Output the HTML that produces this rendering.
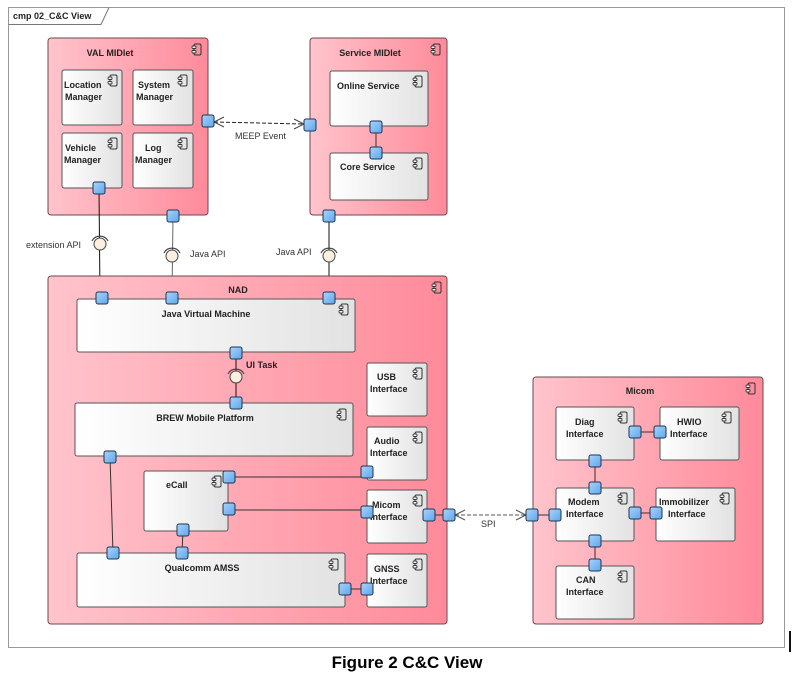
<!DOCTYPE html>
<html><head><meta charset="utf-8"><style>
html,body{margin:0;padding:0;background:#fff;}
svg{display:block;font-family:"Liberation Sans",Arial,sans-serif;}
.t{font-size:9px;font-weight:bold;fill:#222;}
.l{font-size:9px;fill:#333;}
</style></head><body>
<svg width="807" height="677" viewBox="0 0 807 677" xmlns="http://www.w3.org/2000/svg">
<defs>
<linearGradient id="pk" x1="0" x2="1" y1="0" y2="0"><stop offset="0" stop-color="#ffc4cc"/><stop offset="1" stop-color="#ff8a9a"/></linearGradient>
<linearGradient id="wh" x1="0" x2="1" y1="0" y2="0"><stop offset="0" stop-color="#ffffff"/><stop offset="1" stop-color="#e2e2e2"/></linearGradient>
<linearGradient id="bl" x1="0" x2="1" y1="0" y2="1"><stop offset="0" stop-color="#a8d4fb"/><stop offset="1" stop-color="#5fa6ec"/></linearGradient>
<g id="ic"><rect x="2" y="0" width="7" height="11" rx="1.5" fill="none" stroke="#333" stroke-width="1"/><rect x="0" y="2" width="4" height="2.5" rx="1" fill="#fff" stroke="#333" stroke-width="0.9"/><rect x="0" y="6.5" width="4" height="2.5" rx="1" fill="#fff" stroke="#333" stroke-width="0.9"/></g>
<g id="pt"><rect x="-6" y="-6" width="12" height="12" rx="2" fill="url(#bl)" stroke="#1f3550" stroke-width="1"/></g>
<g id="lp"><circle r="6" fill="#fbf0e0" stroke="#444" stroke-width="1"/><path d="M-8,-3 A9,9 0 0 1 8,-3" fill="none" stroke="#444" stroke-width="1.2"/></g>
</defs>

<rect x="8.5" y="7.5" width="776" height="640" fill="#fff" stroke="#999" stroke-width="1"/>
<path d="M8.5,24.5 H101 L109,7.5" fill="none" stroke="#777" stroke-width="1"/>
<text x="13" y="19" style="font-size:9px;font-weight:bold;fill:#222">cmp 02_C&amp;C View</text>
<rect x="789" y="631" width="2" height="21" fill="#111"/>

<rect x="48" y="38" width="160" height="177" rx="3" fill="url(#pk)" stroke="#6b4a4e" stroke-width="1"/>
<text class="t" x="110" y="56" text-anchor="middle">VAL MIDlet</text>
<use href="#ic" x="192" y="44"/>
<rect x="62" y="70" width="60" height="55" rx="2" fill="url(#wh)" stroke="#555"/>
<text class="t" x="64" y="88">Location</text><text class="t" x="65" y="100">Manager</text><use href="#ic" x="108" y="75"/>
<rect x="133" y="70" width="60" height="55" rx="2" fill="url(#wh)" stroke="#555"/>
<text class="t" x="138" y="88">System</text><text class="t" x="136" y="100">Manager</text><use href="#ic" x="178" y="75"/>
<rect x="62" y="133" width="60" height="55" rx="2" fill="url(#wh)" stroke="#555"/>
<text class="t" x="65" y="151">Vehicle</text><text class="t" x="64" y="163">Manager</text><use href="#ic" x="108" y="138"/>
<rect x="133" y="133" width="60" height="55" rx="2" fill="url(#wh)" stroke="#555"/>
<text class="t" x="145" y="151">Log</text><text class="t" x="135" y="163">Manager</text><use href="#ic" x="178" y="138"/>

<rect x="310" y="38" width="137" height="177" rx="3" fill="url(#pk)" stroke="#6b4a4e" stroke-width="1"/>
<text class="t" x="370" y="56" text-anchor="middle">Service MIDlet</text>
<use href="#ic" x="431" y="44"/>
<rect x="330" y="71" width="98" height="55" rx="2" fill="url(#wh)" stroke="#555"/>
<text class="t" x="337" y="89">Online Service</text><use href="#ic" x="413" y="76"/>
<rect x="330" y="153" width="98" height="47" rx="2" fill="url(#wh)" stroke="#555"/>
<text class="t" x="340" y="170">Core Service</text><use href="#ic" x="413" y="158"/>
<line x1="376" y1="127" x2="376" y2="153" stroke="#6b4a4e" stroke-width="1.3"/>

<line x1="214" y1="122" x2="304" y2="124" stroke="#222" stroke-dasharray="4,2"/>
<path d="M224,117 L214,122 L224,127 M294,119 L304,124 L294,129" fill="none" stroke="#444"/>
<text class="l" x="235" y="139">MEEP Event</text>

<line x1="99" y1="188" x2="100" y2="298" stroke="#111"/>
<line x1="173" y1="216" x2="172" y2="298" stroke="#666"/>
<line x1="329" y1="216" x2="329" y2="298" stroke="#111"/>
<use href="#lp" x="100" y="244"/>
<use href="#lp" x="172" y="256"/>
<use href="#lp" x="329" y="256"/>
<text class="l" x="26" y="248">extension API</text>
<text class="l" x="190" y="257">Java API</text>
<text class="l" x="276" y="255">Java API</text>

<rect x="48" y="276" width="399" height="348" rx="3" fill="url(#pk)" stroke="#6b4a4e" stroke-width="1"/>
<text class="t" x="238" y="293" text-anchor="middle">NAD</text>
<use href="#ic" x="432" y="282"/>
<rect x="77" y="299" width="278" height="53" rx="2" fill="url(#wh)" stroke="#555"/>
<text class="t" x="206" y="317" text-anchor="middle">Java Virtual Machine</text><use href="#ic" x="339" y="304"/>
<rect x="75" y="403" width="278" height="53" rx="2" fill="url(#wh)" stroke="#555"/>
<text class="t" x="205" y="421" text-anchor="middle">BREW Mobile Platform</text><use href="#ic" x="337" y="409"/>
<rect x="144" y="471" width="84" height="60" rx="2" fill="url(#wh)" stroke="#555"/>
<text class="t" x="166" y="488">eCall</text><use href="#ic" x="212" y="476"/>
<rect x="77" y="553" width="268" height="54" rx="2" fill="url(#wh)" stroke="#555"/>
<text class="t" x="202" y="571" text-anchor="middle">Qualcomm AMSS</text><use href="#ic" x="329" y="559"/>
<rect x="367" y="363" width="60" height="53" rx="2" fill="url(#wh)" stroke="#555"/>
<text class="t" x="377" y="380">USB</text><text class="t" x="370" y="392">Interface</text><use href="#ic" x="413" y="368"/>
<rect x="367" y="427" width="60" height="53" rx="2" fill="url(#wh)" stroke="#555"/>
<text class="t" x="374" y="444">Audio</text><text class="t" x="370" y="456">Interface</text><use href="#ic" x="413" y="432"/>
<rect x="367" y="490" width="60" height="53" rx="2" fill="url(#wh)" stroke="#555"/>
<text class="t" x="372" y="508">Micom</text><text class="t" x="370" y="520">Interface</text><use href="#ic" x="413" y="495"/>
<rect x="367" y="554" width="60" height="53" rx="2" fill="url(#wh)" stroke="#555"/>
<text class="t" x="374" y="572">GNSS</text><text class="t" x="370" y="584">Interface</text><use href="#ic" x="413" y="559"/>

<line x1="236" y1="353" x2="236" y2="403" stroke="#111"/>
<use href="#lp" x="236" y="377"/>
<text class="t" x="246" y="368">UI Task</text>
<line x1="110" y1="457" x2="113" y2="553" stroke="#333"/>
<line x1="183" y1="530" x2="182" y2="553" stroke="#333"/>
<line x1="229" y1="477" x2="367" y2="477" stroke="#333"/>
<line x1="229" y1="510" x2="367" y2="510" stroke="#333"/>
<line x1="345" y1="589" x2="367" y2="589" stroke="#333"/>
<line x1="429" y1="515" x2="449" y2="515" stroke="#333"/>

<line x1="455" y1="515" x2="526" y2="515" stroke="#555" stroke-dasharray="4,2"/>
<path d="M465,510 L455,515 L465,520 M516,510 L526,515 L516,520" fill="none" stroke="#555"/>
<text class="l" x="481" y="527">SPI</text>

<rect x="533" y="377" width="230" height="247" rx="3" fill="url(#pk)" stroke="#6b4a4e" stroke-width="1"/>
<text class="t" x="640" y="394" text-anchor="middle">Micom</text>
<use href="#ic" x="746" y="383"/>
<rect x="556" y="407" width="78" height="53" rx="2" fill="url(#wh)" stroke="#555"/>
<text class="t" x="575" y="425">Diag</text><text class="t" x="566" y="437">Interface</text><use href="#ic" x="618" y="412"/>
<rect x="660" y="407" width="79" height="53" rx="2" fill="url(#wh)" stroke="#555"/>
<text class="t" x="677" y="425">HWIO</text><text class="t" x="670" y="437">Interface</text><use href="#ic" x="722" y="412"/>
<rect x="556" y="488" width="78" height="53" rx="2" fill="url(#wh)" stroke="#555"/>
<text class="t" x="568" y="505">Modem</text><text class="t" x="566" y="517">Interface</text><use href="#ic" x="618" y="493"/>
<rect x="656" y="488" width="79" height="53" rx="2" fill="url(#wh)" stroke="#555"/>
<text class="t" x="659" y="505">Immobilizer</text><text class="t" x="668" y="517">Interface</text><use href="#ic" x="720" y="493"/>
<rect x="556" y="566" width="78" height="53" rx="2" fill="url(#wh)" stroke="#555"/>
<text class="t" x="576" y="583">CAN</text><text class="t" x="566" y="595">Interface</text><use href="#ic" x="618" y="571"/>
<line x1="532" y1="515" x2="555" y2="515" stroke="#333"/>
<line x1="635" y1="432" x2="660" y2="432" stroke="#333"/>
<line x1="595" y1="461" x2="595" y2="488" stroke="#6b4a4e" stroke-width="1.3"/>
<line x1="635" y1="513" x2="656" y2="513" stroke="#333"/>
<line x1="595" y1="541" x2="595" y2="565" stroke="#6b4a4e" stroke-width="1.3"/>

<use href="#pt" x="208" y="121"/><use href="#pt" x="310" y="125"/>
<use href="#pt" x="99" y="188"/><use href="#pt" x="173" y="216"/><use href="#pt" x="329" y="216"/>
<use href="#pt" x="376" y="127"/><use href="#pt" x="376" y="153"/>
<use href="#pt" x="102" y="298"/><use href="#pt" x="172" y="298"/><use href="#pt" x="329" y="298"/>
<use href="#pt" x="236" y="353"/><use href="#pt" x="236" y="403"/>
<use href="#pt" x="110" y="457"/><use href="#pt" x="113" y="553"/><use href="#pt" x="182" y="553"/><use href="#pt" x="183" y="530"/>
<use href="#pt" x="229" y="477"/><use href="#pt" x="229" y="509"/>
<use href="#pt" x="367" y="472"/><use href="#pt" x="367" y="512"/>
<use href="#pt" x="429" y="515"/><use href="#pt" x="449" y="515"/>
<use href="#pt" x="345" y="589"/><use href="#pt" x="367" y="589"/>
<use href="#pt" x="532" y="515"/><use href="#pt" x="555" y="515"/>
<use href="#pt" x="635" y="432"/><use href="#pt" x="660" y="432"/>
<use href="#pt" x="595" y="461"/><use href="#pt" x="595" y="488"/>
<use href="#pt" x="635" y="513"/><use href="#pt" x="656" y="513"/>
<use href="#pt" x="595" y="541"/><use href="#pt" x="595" y="565"/>

<text x="407" y="668" text-anchor="middle" style="font-size:17px;font-weight:bold;fill:#000">Figure 2 C&amp;C View</text>
</svg>
</body></html>
